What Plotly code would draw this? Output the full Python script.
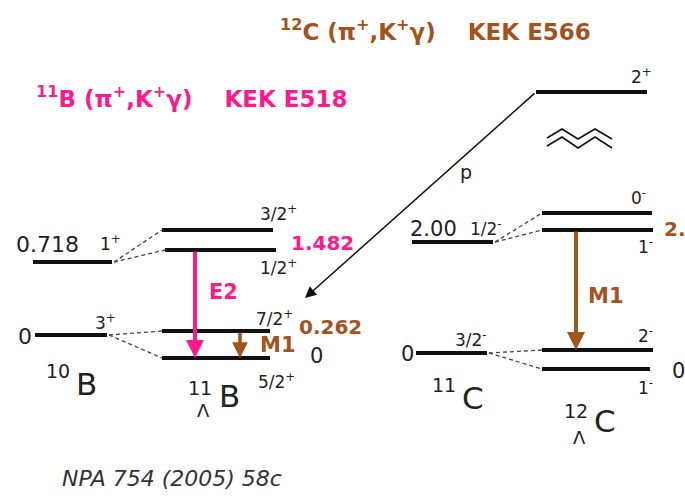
import plotly.graph_objects as go

W, H = 685, 500
BLACK = "#111111"
TXT = "#222222"
PINK = "#ff1a8c"
BROWN = "#a3531c"
FONT = "DejaVu Sans, Liberation Sans, sans-serif"

# ---- level scheme data (energies in MeV, spin-parities) ----
b10_energy = ["0.718", "0"]
b10_spin = ["1<sup>+</sup>", "3<sup>+</sup>"]
lb11_spin = ["3/2<sup>+</sup>", "1/2<sup>+</sup>", "7/2<sup>+</sup>", "5/2<sup>+</sup>"]
lb11_energy = ["1.482", "0.262", "0"]
c11_energy = ["2.00", "0"]
c11_spin = ["1/2<sup>-</sup>", "3/2<sup>-</sup>"]
lc12_spin = ["2<sup>+</sup>", "0<sup>-</sup>", "1<sup>-</sup>", "2<sup>-</sup>", "1<sup>-</sup>"]
lc12_energy = ["2.", "0"]
gamma_labels = ["E2", "M1", "M1"]

# ---- drawing coordinates of the levels (x0, x1, y) ----
b10_lv = [(33, 112, 262), (35, 107, 335)]
lb11_lv = [(162, 273, 230), (165, 276, 250), (162, 270, 331), (162, 270, 358)]
c11_lv = [(412, 493, 242), (416, 487, 353)]
lc12_lv = [(536, 647, 92), (542, 652, 213), (542, 653, 230), (542, 653, 350), (542, 650, 369)]

fig = go.Figure()


def line(xs, ys, width=1.5, dash="solid", color=BLACK):
    fig.add_trace(go.Scatter(x=xs, y=ys, mode="lines", hoverinfo="skip",
                             line=dict(color=color, width=width, dash=dash)))


for lv in (b10_lv, lb11_lv, c11_lv, lc12_lv):
    for x0, x1, y in lv:
        line([x0, x1], [y, y], width=4)


# core-to-hypernucleus doublet connectors
def connect(core, hyp_pair):
    x0, y0 = core[1] + 2, core[2]
    for h in hyp_pair:
        line([x0, h[0]], [y0, h[2]], width=1.3, dash="4px,3px", color="#444444")


connect(b10_lv[0], lb11_lv[0:2])
connect(b10_lv[1], lb11_lv[2:4])
connect(c11_lv[0], lc12_lv[1:3])
connect(c11_lv[1], lc12_lv[3:5])

# broken-axis zigzag below the 2+ state
zig_x = [547, 562, 578, 595, 612]
line(zig_x, [138, 129, 139, 129, 139], width=1.6)
line(zig_x, [146, 137, 148, 137, 148], width=1.6)

ann = []


def text(x, y, s, size=17, color=TXT, xa="left", ya="middle", bold=False, italic=False):
    if bold:
        s = "<b>" + s + "</b>"
    if italic:
        s = "<i>" + s + "</i>"
    ann.append(dict(x=x, y=y, xref="x", yref="y", text=s, showarrow=False,
                    xanchor=xa, yanchor=ya,
                    font=dict(family=FONT, size=size, color=color)))


def arrow(x0, y0, x1, y1, color, width, size=1.0):
    ann.append(dict(x=x1, y=y1, ax=x0, ay=y0, xref="x", yref="y", axref="x", ayref="y",
                    text="", showarrow=True, arrowhead=2, arrowsize=size,
                    arrowwidth=width, arrowcolor=color))


# gamma transitions
arrow(195, lb11_lv[1][2], 195, lb11_lv[3][2], PINK, 4, 0.9)
arrow(240, lb11_lv[2][2], 240, lb11_lv[3][2], BROWN, 3.5, 0.9)
arrow(576, lc12_lv[2][2], 576, lc12_lv[3][2], BROWN, 4, 0.9)
# proton emission
arrow(lc12_lv[0][0], lc12_lv[0][2], 305, 298, BLACK, 1.5, 1.5)

# headers
text(278, 30, "<sup>12</sup>C (π<sup>+</sup>,K<sup>+</sup>γ)    KEK E566", 23, BROWN, bold=True)
text(34, 97, "<sup>11</sup>B (π<sup>+</sup>,K<sup>+</sup>γ)    KEK E518", 23, PINK, bold=True)

# 10B
text(14, 244, b10_energy[0], 22)
text(98, 243, b10_spin[0], 17)
text(16, 336, b10_energy[1], 22)
text(93, 322, b10_spin[1], 17)
text(72, 371, "10", 19, xa="right")
text(74, 384, "B", 31)

# 11B Lambda
text(258, 213, lb11_spin[0], 17)
text(289, 243, lb11_energy[0], 20, PINK, bold=True)
text(258, 267, lb11_spin[1], 17)
text(207, 292, gamma_labels[0], 21, PINK, bold=True)
text(254, 318, lb11_spin[2], 17)
text(297, 327, lb11_energy[1], 20, BROWN, bold=True)
text(258, 345, gamma_labels[1], 21, BROWN, bold=True)
text(308, 356, lb11_energy[2], 21)
text(256, 381, lb11_spin[3], 17)
text(214, 388, "11", 19, xa="right")
text(203, 410, "Λ", 18, xa="center")
text(217, 396, "B", 31)

# 11C
text(408, 229, c11_energy[0], 21)
text(468, 228, c11_spin[0], 17)
text(399, 354, c11_energy[1], 21)
text(453, 339, c11_spin[1], 17)
text(458, 385, "11", 19, xa="right")
text(460, 398, "C", 31)

# 12C Lambda
text(629, 76, lc12_spin[0], 17)
text(629, 197, lc12_spin[1], 17)
text(662, 229, lc12_energy[0], 20, BROWN, bold=True)
text(636, 246, lc12_spin[2], 17)
text(586, 296, gamma_labels[2], 21, BROWN, bold=True)
text(636, 335, lc12_spin[3], 17)
text(670, 371, lc12_energy[1], 21)
text(636, 387, lc12_spin[4], 17)
text(590, 411, "12", 19, xa="right")
text(579, 437, "Λ", 18, xa="center")
text(592, 421, "C", 31)

# proton label
text(458, 172, "p", 19)

# reference
text(60, 478, "NPA 754 (2005) 58c", 22, "#333333", italic=True)

fig.update_layout(
    width=W, height=H, margin=dict(l=0, r=0, t=0, b=0),
    paper_bgcolor="white", plot_bgcolor="white", showlegend=False,
    xaxis=dict(range=[0, W], visible=False, fixedrange=True),
    yaxis=dict(range=[H, 0], visible=False, fixedrange=True),
    annotations=ann,
)

fig.write_html("out.html", config={"displayModeBar": False})
